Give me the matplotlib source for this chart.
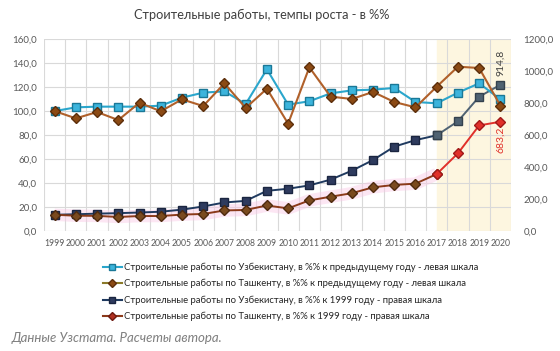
import matplotlib

matplotlib.use("Agg")

import matplotlib.pyplot as plt
from matplotlib.lines import Line2D
from matplotlib.ticker import FuncFormatter

plt.rcParams["font.family"] = ["Lato", "Noto Sans", "DejaVu Sans"]

years = list(range(1999, 2021))

uzb_prev = [100.0, 103.1, 103.7, 103.7, 103.7, 104.5, 111.2, 115.4, 116.5, 105.9, 134.9,
            105.4, 108.2, 114.8, 117.3, 117.9, 119.3, 107.6, 106.5, 115.4, 123.2, 109.8]
tash_prev = [100.0, 93.9, 99.2, 92.5, 107.0, 99.8, 109.8, 104.2, 123.2, 102.6, 118.7,
             89.5, 136.6, 112.1, 110.1, 116.0, 107.6, 103.1, 120.4, 137.1, 136.0, 104.5]
uzb_1999 = [100, 103, 107, 110, 114, 119, 132, 152, 177, 187, 250,
            263, 284, 320, 376, 443, 527, 568, 598, 686, 840, 914.8]
tash_1999 = [100, 94, 93, 86, 92, 92, 101, 105, 127, 130, 158,
             140, 190, 213, 235, 272, 287, 295, 355, 485, 660, 683.2]

labels = [
    "Строительные работы по Узбекистану, в %% к предыдущему году - левая шкала",
    "Строительные работы по Ташкенту, в %% к предыдущему году - левая шкала",
    "Строительные работы по Узбекистану, в %% к 1999 году - правая шкала",
    "Строительные работы по Ташкенту, в %% к 1999 году - правая шкала",
]
title = "Строительные работы, темпы роста - в %%"
source = "Данные Узстата. Расчеты автора."

TXT = "#595959"
GRID = "#D9D9D9"
C_UZB_PREV = "#2AA6CC"
C_TASH_PREV = "#B0602A"
C_UZB_1999 = "#1F3A5F"
C_UZB_1999_LATE = "#4F6272"
C_TASH_1999 = "#8B3A1A"
C_TASH_1999_LATE = "#E0302A"
SCALE = 1200 / 160  # left scale -> right scale

fig = plt.figure(figsize=(5.6, 3.51), dpi=100)
ax = fig.add_axes([44 / 560, 1 - 230.7 / 351, (511 - 44) / 560, (230.7 - 39.3) / 351])
ax2 = ax.twinx()

comma = FuncFormatter(lambda v, _: f"{v:.1f}".replace(".", ","))

# shaded zone for the last years
ax.axvspan(2017, 2020.5, color="#FDF6E0", zorder=0)

ax.set_xlim(1998.5, 2020.5)
ax.set_ylim(0, 160)
ax.set_yticks(range(0, 161, 20))
ax.yaxis.set_major_formatter(comma)
ax.set_xticks(years)
ax.set_xticks([y - 0.5 for y in years] + [2020.5], minor=True)
ax.grid(True, axis="y", color=GRID, lw=0.8, zorder=1)
ax.grid(True, axis="x", which="minor", color=GRID, lw=0.8, zorder=1)
ax.tick_params(axis="both", which="both", length=0, colors=TXT)
ax.tick_params(axis="x", labelsize=6.2, pad=6)
ax.tick_params(axis="y", labelsize=7, pad=5)
for s in ax.spines.values():
    s.set_visible(False)

ax2.set_ylim(0, 1200)
ax2.set_yticks(range(0, 1201, 200))
ax2.yaxis.set_major_formatter(comma)
ax2.tick_params(axis="y", length=0, labelsize=7, colors=TXT, pad=9)
for s in ax2.spines.values():
    s.set_visible(False)

# pink glow under the Tashkent cumulative line
ax2.plot(years[:19], tash_1999[:19], color="#F9C8E6", lw=9, alpha=0.45,
         solid_capstyle="butt", zorder=2)

ax2.plot(years[:19], uzb_1999[:19], color=C_UZB_1999, lw=1.4, marker="s", ms=5.5,
         mfc="#2E3B5E", mec="#1A2540", zorder=3)
ax2.plot(years[18:], uzb_1999[18:], color=C_UZB_1999_LATE, lw=1.4, marker="s", ms=5.5,
         mfc="#4F6272", mec="#34414D", zorder=3)
ax2.plot(years[:19], tash_1999[:19], color=C_TASH_1999, lw=1.4, marker="D", ms=5,
         mfc="#7A4A1E", mec="#4E2A0E", zorder=4)
ax2.plot(years[18:], tash_1999[18:], color=C_TASH_1999_LATE, lw=1.4, marker="D", ms=5,
         mfc="#E0302A", mec="#A01818", zorder=4)

# left-scale series, drawn on ax2 (rescaled) so they sit on top
ax2.plot(years, [v * SCALE for v in uzb_prev], color=C_UZB_PREV, lw=1.5, marker="s",
         ms=5.5, mfc="#3CB4DC", mec="#1A7897", zorder=5)
ax2.plot(years, [v * SCALE for v in tash_prev], color=C_TASH_PREV, lw=1.5, marker="D",
         ms=5.5, mfc="#8B4A14", mec="#5C2E0A", zorder=6)

ax2.text(years[-1], 1050, f"{uzb_1999[-1]:.1f}".replace(".", ","), rotation=90,
         ha="center", va="center", fontsize=7.5, color="#404040")
ax2.text(years[-1], 569, f"{tash_1999[-1]:.1f}".replace(".", ","), rotation=90,
         ha="center", va="center", fontsize=7.5, color=C_TASH_1999_LATE)

fig.text(262 / 560, 1 - 15 / 351, title, ha="center", va="center",
         fontsize=9.2, color="#404040")

handles = [
    Line2D([], [], color=C_UZB_PREV, lw=1.5, marker="s", ms=4.5, mfc="#3CB4DC", mec="#1A7897"),
    Line2D([], [], color="#8B7A2A", lw=1.5, marker="D", ms=4, mfc="#8B4A14", mec="#5C2E0A"),
    Line2D([], [], color=C_UZB_1999, lw=1.5, marker="s", ms=4.5, mfc="#2E3B5E", mec="#1A2540"),
    Line2D([], [], color=C_TASH_1999, lw=1.5, marker="D", ms=4, mfc="#B03020", mec="#6E1A10"),
]
fig.legend(handles, labels, loc="upper left", bbox_to_anchor=(99 / 560, 1 - 259 / 351),
           frameon=False, fontsize=6.8, labelcolor="#262626", handlelength=2.0,
           handletextpad=0.2, labelspacing=0.75, borderaxespad=0)

fig.text(12 / 560, 1 - 338 / 351, source, ha="left", va="center", fontsize=9.5,
         style="italic", color="#7F7F7F")

fig.savefig("out.png", dpi=100)
